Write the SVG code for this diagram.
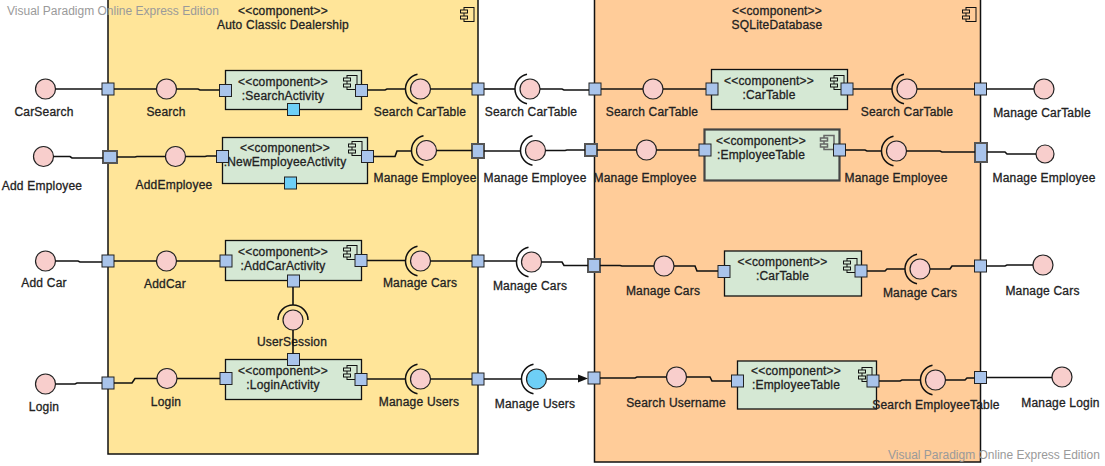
<svg xmlns="http://www.w3.org/2000/svg" xmlns:xlink="http://www.w3.org/1999/xlink" width="1105" height="466" viewBox="0 0 1105 466">
<style>
.cont{stroke:#111;stroke-width:1.5}
.comp{fill:#D5E8D4;stroke:#111;stroke-width:1.3}
.comp2{fill:#D5E8D4;stroke:#444;stroke-width:2.2}
.port{fill:#A9C4EB;stroke:#222;stroke-width:1}
.portg{fill:#A9C4EB;stroke:#555;stroke-width:2}
.bport{fill:#6ECFF6;stroke:#222;stroke-width:1}
.ifc{fill:#F8CECC;stroke:#222;stroke-width:1.2}
.bifc{fill:#6ECFF6;stroke:#222;stroke-width:1.2}
.sock{fill:none;stroke:#111;stroke-width:1.5}
.ln{fill:none;stroke:#111;stroke-width:1.6}
.icon{stroke:#111;stroke-width:1}
.icong{stroke:#666;stroke-width:1.5}
text{font-family:"Liberation Sans",Arial,sans-serif;font-size:12px;fill:#222;stroke:#222;stroke-width:0.3;text-anchor:middle;letter-spacing:0.2px}
text.wm{fill:#9a9a9a;stroke:none;text-anchor:start;letter-spacing:0}
</style>
<defs>
<g id="cicon"><rect x="4" y="0.5" width="10" height="14"/><rect x="0.5" y="3" width="7" height="3"/><rect x="0.5" y="9" width="7" height="3"/></g>
</defs>

<!-- containers -->
<g id="auto-classic-dealership">
<rect class="cont" x="108" y="-1" width="370" height="455" fill="#FFE599"/>
<use href="#cicon" x="460" y="7" class="icon" fill="#FFE599"/>
<text x="283" y="15">&lt;&lt;component&gt;&gt;</text>
<text x="283" y="29">Auto Classic Dealership</text>
</g>
<g id="sqlite-database">
<rect class="cont" x="594.5" y="-1" width="386" height="463" fill="#FFCC99"/>
<use href="#cicon" x="962" y="7" class="icon" fill="#FFCC99"/>
<text x="777" y="15">&lt;&lt;component&gt;&gt;</text>
<text x="777" y="29">SQLiteDatabase</text>
</g>

<!-- components -->
<g id="search-activity">
<rect class="comp" x="225.5" y="70.5" width="136" height="39"/>
<use href="#cicon" x="343" y="75" class="icon" fill="#D5E8D4"/>
<text x="283" y="86">&lt;&lt;component&gt;&gt;</text>
<text x="283" y="100">:SearchActivity</text>
<rect class="port" x="219.5" y="84.5" width="12" height="12"/>
<rect class="port" x="355.5" y="84.5" width="12" height="12"/>
<rect class="bport" x="287.5" y="103.5" width="12" height="12"/>
</g>
<g id="new-employee-activity">
<rect class="comp" x="222.5" y="137.5" width="145" height="46"/>
<use href="#cicon" x="348" y="141" class="icon" fill="#D5E8D4"/>
<text x="285" y="152">&lt;&lt;component&gt;&gt;</text>
<text x="285" y="166">:NewEmployeeActivity</text>
<rect class="port" x="216.5" y="150.5" width="12" height="12"/>
<rect class="port" x="361.5" y="150.5" width="12" height="12"/>
<rect class="bport" x="284.5" y="177" width="12" height="12"/>
</g>
<g id="add-car-activity">
<rect class="comp" x="225.5" y="240.5" width="136" height="40"/>
<use href="#cicon" x="343" y="245" class="icon" fill="#D5E8D4"/>
<text x="283" y="256">&lt;&lt;component&gt;&gt;</text>
<text x="283" y="270">:AddCarActivity</text>
<rect class="port" x="220" y="255" width="12" height="12"/>
<rect class="port" x="355" y="254.5" width="12" height="12"/>
<rect class="port" x="287.5" y="275" width="12" height="12"/>
</g>
<g id="login-activity">
<rect class="comp" x="225.5" y="359.5" width="136" height="40"/>
<use href="#cicon" x="343" y="365" class="icon" fill="#D5E8D4"/>
<text x="283" y="375">&lt;&lt;component&gt;&gt;</text>
<text x="283" y="389">:LoginActivity</text>
<rect class="port" x="287.5" y="353.5" width="12" height="12"/>
<rect class="port" x="220" y="372.5" width="12" height="12"/>
<rect class="port" x="355" y="373.5" width="12" height="12"/>
</g>
<g id="car-table-1">
<rect class="comp" x="711.5" y="69.5" width="136" height="40"/>
<use href="#cicon" x="830" y="75" class="icon" fill="#D5E8D4"/>
<text x="769" y="85">&lt;&lt;component&gt;&gt;</text>
<text x="769" y="99">:CarTable</text>
<rect class="port" x="706" y="83" width="12" height="12"/>
<rect class="port" x="841" y="83" width="12" height="12"/>
</g>
<g id="employee-table-1">
<rect class="comp2" x="704.5" y="129.5" width="135" height="51"/>
<use href="#cicon" x="820" y="135" class="icong" fill="#D5E8D4"/>
<text x="761" y="145">&lt;&lt;component&gt;&gt;</text>
<text x="761" y="159">:EmployeeTable</text>
<rect class="port" x="699" y="144" width="12" height="12"/>
<rect class="port" x="833.5" y="144" width="12" height="12"/>
</g>
<g id="car-table-2">
<rect class="comp" x="724.5" y="251" width="137" height="45"/>
<use href="#cicon" x="843" y="258" class="icon" fill="#D5E8D4"/>
<text x="782.5" y="266">&lt;&lt;component&gt;&gt;</text>
<text x="782.5" y="280">:CarTable</text>
<rect class="port" x="718" y="265.5" width="12" height="12"/>
<rect class="port" x="855" y="265" width="12" height="12"/>
</g>
<g id="employee-table-2">
<rect class="comp" x="737.5" y="361" width="139" height="48"/>
<use href="#cicon" x="858" y="367" class="icon" fill="#D5E8D4"/>
<text x="796" y="375">&lt;&lt;component&gt;&gt;</text>
<text x="796" y="389">:EmployeeTable</text>
<rect class="port" x="731.5" y="375" width="12" height="12"/>
<rect class="port" x="867" y="375" width="12" height="12"/>
</g>

<!-- boundary ports -->
<g id="boundary-ports">
<rect class="port" x="102" y="83" width="12" height="12"/>
<rect class="portg" x="103" y="151" width="14" height="12"/>
<rect class="port" x="102" y="255" width="12" height="12"/>
<rect class="port" x="102" y="377" width="12" height="12"/>
<rect class="port" x="472" y="83" width="12" height="12"/>
<rect class="portg" x="472" y="144" width="12" height="14"/>
<rect class="port" x="472" y="255" width="12" height="12"/>
<rect class="port" x="472" y="373" width="12" height="12"/>
<rect class="port" x="589" y="83" width="12" height="12"/>
<rect class="portg" x="585" y="144" width="12" height="12"/>
<rect class="portg" x="588" y="259" width="12" height="13"/>
<rect class="port" x="588" y="372" width="12" height="12"/>
<rect class="port" x="974.5" y="83" width="12" height="12"/>
<rect class="portg" x="975" y="143" width="12" height="19"/>
<rect class="port" x="974.5" y="260" width="12" height="12"/>
<rect class="port" x="974.5" y="371.5" width="12" height="12"/>
</g>

<!-- provided interfaces -->
<g id="i-carsearch"><circle class="ifc" cx="45.5" cy="89" r="10"/><text x="44" y="116">CarSearch</text></g>
<g id="i-search"><circle class="ifc" cx="166.5" cy="89" r="10"/><text x="166" y="116">Search</text></g>
<g id="i-search-cartable-db"><circle class="ifc" cx="653" cy="89" r="10"/><text x="652" y="116">Search CarTable</text></g>
<g id="i-manage-cartable"><circle class="ifc" cx="1044" cy="89" r="10"/><text x="1042" y="117">Manage CarTable</text></g>
<g id="i-add-employee"><circle class="ifc" cx="43.5" cy="156.5" r="10"/><text x="42" y="190">Add Employee</text></g>
<g id="i-addemployee"><circle class="ifc" cx="175.5" cy="156.5" r="10"/><text x="174" y="189">AddEmployee</text></g>
<g id="i-manage-employee-db"><circle class="ifc" cx="646.5" cy="150" r="10"/><text x="645" y="182">Manage Employee</text></g>
<g id="i-manage-employee-out"><circle class="ifc" cx="1045" cy="154" r="9"/><text x="1044" y="182">Manage Employee</text></g>
<g id="i-add-car"><circle class="ifc" cx="45.5" cy="261" r="10"/><text x="44" y="287">Add Car</text></g>
<g id="i-addcar"><circle class="ifc" cx="166.5" cy="261" r="10"/><text x="165" y="288">AddCar</text></g>
<g id="i-manage-cars-db"><circle class="ifc" cx="664" cy="266" r="10"/><text x="663" y="295">Manage Cars</text></g>
<g id="i-manage-cars-out"><circle class="ifc" cx="1043" cy="265" r="10"/><text x="1042.5" y="294.5">Manage Cars</text></g>
<g id="i-login"><circle class="ifc" cx="45.5" cy="384" r="10"/><text x="44" y="410.5">Login</text></g>
<g id="i-login-inner"><circle class="ifc" cx="167" cy="378.5" r="10"/><text x="166" y="405.5">Login</text></g>
<g id="i-search-username"><circle class="ifc" cx="676.5" cy="377" r="10"/><text x="676" y="406.5">Search Username</text></g>
<g id="i-manage-login"><circle class="ifc" cx="1062" cy="377" r="10"/><text x="1060.5" y="406.5">Manage Login</text></g>

<!-- required/provided sockets -->
<g id="s-search-cartable-1"><path class="sock" d="M417.5,74.3 A15,15 0 0 0 417.5,103.7"/><circle class="ifc" cx="420.5" cy="89" r="10"/><text x="420" y="116">Search CarTable</text></g>
<g id="s-search-cartable-2"><path class="sock" d="M527,74.3 A15,15 0 0 0 527,103.7"/><circle class="ifc" cx="530" cy="89" r="10"/><text x="531" y="116">Search CarTable</text></g>
<g id="s-search-cartable-3"><path class="sock" d="M904,74.3 A15,15 0 0 0 904,103.7"/><circle class="ifc" cx="907" cy="89" r="10"/><text x="907" y="116">Search CarTable</text></g>
<g id="s-manage-employee-1"><path class="sock" d="M423.5,135.8 A15,15 0 0 0 423.5,165.2"/><circle class="ifc" cx="426.5" cy="150.5" r="10"/><text x="425" y="182">Manage Employee</text></g>
<g id="s-manage-employee-2"><path class="sock" d="M532.5,135.8 A15,15 0 0 0 532.5,165.2"/><circle class="ifc" cx="535.5" cy="150.5" r="10"/><text x="535" y="182">Manage Employee</text></g>
<g id="s-manage-employee-3"><path class="sock" d="M893.5,136.3 A15,15 0 0 0 893.5,165.7"/><circle class="ifc" cx="896.5" cy="151" r="10"/><text x="896" y="182">Manage Employee</text></g>
<g id="s-manage-cars-1"><path class="sock" d="M417.5,246.3 A15,15 0 0 0 417.5,275.7"/><circle class="ifc" cx="420.5" cy="261" r="10"/><text x="420" y="287">Manage Cars</text></g>
<g id="s-manage-cars-2"><path class="sock" d="M528.5,247.3 A15,15 0 0 0 528.5,276.7"/><circle class="ifc" cx="531.5" cy="262" r="10"/><text x="530" y="290">Manage Cars</text></g>
<g id="s-manage-cars-3"><path class="sock" d="M917,254.3 A15,15 0 0 0 917,283.7"/><circle class="ifc" cx="920" cy="269" r="10"/><text x="920" y="297">Manage Cars</text></g>
<g id="s-manage-users-1"><path class="sock" d="M417.5,364.3 A15,15 0 0 0 417.5,393.7"/><circle class="ifc" cx="420.5" cy="379" r="10"/><text x="419" y="406">Manage Users</text></g>
<g id="s-manage-users-2"><path class="sock" d="M533.5,364.3 A15,15 0 0 0 533.5,393.7"/><circle class="bifc" cx="536.5" cy="379" r="10"/><text x="535" y="407.5">Manage Users</text></g>
<g id="s-search-employeetable"><path class="sock" d="M932.5,365.3 A15,15 0 0 0 932.5,394.7"/><circle class="ifc" cx="935.5" cy="380" r="10"/><text x="936" y="408.7">Search EmployeeTable</text></g>
<g id="s-usersession"><path class="sock" d="M278,320 A15,15 0 0 1 308,320"/><circle class="ifc" cx="293" cy="320" r="10"/><text x="292" y="346">UserSession</text></g>

<!-- connectors -->
<g id="connectors" class="ln">
<path d="M55.5,89 H102"/>
<path d="M114,89 H156.5"/>
<path d="M176.5,89 H198 L200,90 H219.5"/>
<path d="M367.5,90 H385 L387,89 H405.5"/>
<path d="M430.5,89 H472"/>
<path d="M484,89 H515"/>
<path d="M540,89 H562 L564,90 H589"/>
<path d="M601,89 H643"/>
<path d="M663,89 H706"/>
<path d="M853,89 H892"/>
<path d="M917,89 H974.5"/>
<path d="M986.5,89 H1034"/>

<path d="M53.5,156.5 H70 L72,158 H103"/>
<path d="M117,157 H135 L137,156.5 H165.5"/>
<path d="M185.5,156.5 H205 L207,156 H216.5"/>
<path d="M373.5,156.5 H395 L397,151 H411.5"/>
<path d="M436.5,150.5 H472"/>
<path d="M484,151 H520.5"/>
<path d="M545.5,150.5 H565 L567,150 H585"/>
<path d="M597,150 H636.5"/>
<path d="M656.5,150 H699"/>
<path d="M845.5,150 H865 L867,151 H881.5"/>
<path d="M906.5,151 H940 L942,152 H975"/>
<path d="M987,152 H1005 L1007,154 H1036"/>

<path d="M55.5,261 H78 L80,262 H102"/>
<path d="M114,261 H156.5"/>
<path d="M176.5,261 H220"/>
<path d="M367,260.5 H405.5"/>
<path d="M430.5,261 H472"/>
<path d="M484,261 H516.5"/>
<path d="M541.5,262 H562 L564,265.5 H588"/>
<path d="M600,265.5 H620 L622,266 H654"/>
<path d="M674,266 H695 L697,271 H718"/>
<path d="M867,271 H885 L887,269 H905"/>
<path d="M930,269 H950 L952,266 H974.5"/>
<path d="M986.5,266 H1005 L1007,265 H1033"/>
<path d="M293,287 V305"/>
<path d="M293,330 V353.5"/>

<path d="M55.5,384 H75 L77,383 H102"/>
<path d="M114,383 H132 L135,378.5 H157"/>
<path d="M177,378.5 H220"/>
<path d="M367,379 H405.5"/>
<path d="M430.5,379 H472"/>
<path d="M484,379 H521.5"/>
<path d="M546.5,379 H580"/>
<polygon points="578,374.5 588,378.5 578,382.5" fill="#111" stroke="none"/>
<path d="M600,378 H635 L637,377 H666.5"/>
<path d="M686.5,377 H710 L712,381 H731.5"/>
<path d="M879,381 H900 L902,380 H920.5"/>
<path d="M945.5,380 H965 L967,378 H974.5"/>
<path d="M986.5,377.5 H1052"/>
</g>

<text class="wm" x="7" y="15">Visual Paradigm Online Express Edition</text>
<text class="wm" x="888" y="459">Visual Paradigm Online Express Edition</text>
</svg>
